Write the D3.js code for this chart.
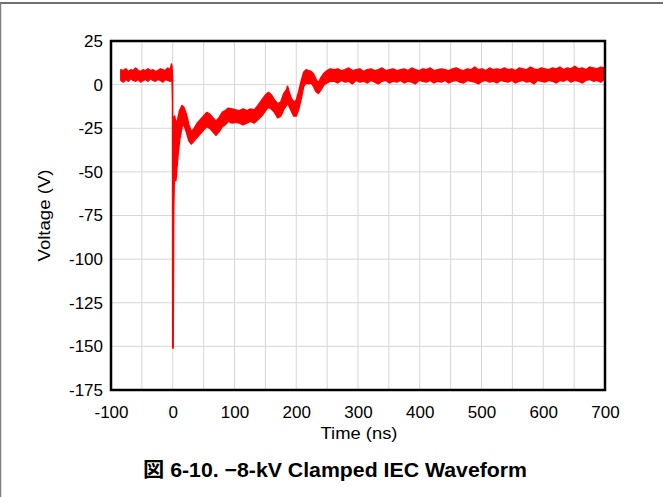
<!DOCTYPE html>
<html><head><meta charset="utf-8">
<script src="https://cdn.jsdelivr.net/npm/d3@7"></script>
<style>
body{margin:0;background:#fff;}
svg{display:block;font-family:"Liberation Sans",Arial,"Noto Sans CJK JP",sans-serif;}
</style></head><body>
<svg id="c" width="663" height="497"></svg>
<script>
// ---- data ----
const xTicks = [-100, 0, 100, 200, 300, 400, 500, 600, 700];
const yTicks = [25, 0, -25, -50, -75, -100, -125, -150, -175];
const xGrid = [-50, 0, 50, 100, 150, 200, 250, 300, 350, 400, 450, 500, 550, 600, 650];
const yGrid = [0, -25, -50, -75, -100, -125, -150];

const timeNs = [
  -84,-80,-76,-72,-68,-64,-60,-56,-52,-48,-44,-40,-36,-32,-28,-24,-20,-16,-12,-8,-4,
  -2,-1,-0.3,0,0.6,1.5,3,5,8,11,15,18,22,26,30,35,40,45,50,55,60,65,70,75,80,85,90,96,102,108,
  114,120,126,132,138,144,150,155,160,165,170,175,180,184,186,188,192,196,200,204,
  208,212,216,220,224,228,232,236,240,245,250,255,
  261,267,273,279,285,291,297,303,309,315,321,327,333,339,345,351,357,363,369,375,
  381,387,393,399,405,411,417,423,429,435,441,447,453,459,465,471,477,483,489,495,
  501,507,513,519,525,531,537,543,549,555,561,567,573,579,585,591,597,603,609,615,
  621,627,633,639,645,651,657,663,669,675,681,687,693,699
];
const upperV = [
  8.5,8.0,9.0,7.5,8.5,8.0,9.5,8.0,7.5,8.5,8.0,9.0,8.0,8.5,7.5,8.0,9.0,8.5,8.0,9.5,8.5,
  11.8,9,3,-140,-110,-19,-18,-22,-20,-15,-12,-13,-17,-23,-27,-25,-22,-20,-18,-16,-17,-19,-21,-19,-16,-15,-13.5,-14,-14.5,-15,
  -14,-15,-14,-14.5,-12,-9,-6,-4.5,-6,-9,-11,-10,-5,-3,-1,-4,-8,-10,-9,-4,
  2,7,8.5,8,7.5,6,3,1,4,6.5,8,9,
  8.5,9.0,8.0,8.5,9.5,8.0,8.5,9.0,7.5,8.5,9.0,8.0,8.5,9.5,8.0,8.5,9.0,8.0,8.5,9.0,
  8.0,9.5,8.5,8.0,9.0,8.5,9.5,8.0,8.5,9.0,8.5,8.0,9.0,9.5,8.5,8.0,9.0,8.5,10.0,8.5,
  9.0,8.0,9.5,8.5,9.0,8.5,9.5,8.5,9.0,8.0,9.5,9.0,8.5,10.0,9.0,8.5,9.5,9.0,8.5,9.5,
  9.0,10.0,8.5,9.5,9.0,10.5,9.0,9.5,8.5,10.0,9.5,9.0,10.0,9.5
];
const lowerV = [
  2.5,1.5,3.0,2.0,3.5,2.5,2.0,3.0,1.5,2.5,3.0,2.0,3.5,2.5,2.0,3.0,2.5,1.5,3.0,2.5,2.0,
  2.5,2,-10,-151,-151,-72,-45,-55,-42,-32,-24,-23,-27,-32,-34,-32,-30,-28,-26,-24,-25,-27,-29,-27,-24,-23,-21,-22,-21.5,-22,
  -23,-22,-21,-22,-20,-18,-15,-13,-14,-16,-19,-18,-14,-12,-10,-12,-15,-18,-18,-14,
  -8,-1,1,0.5,1,-1,-4,-5,-3,0,1,2,
  2.0,1.0,2.5,1.5,2.0,0.5,2.5,1.5,2.0,1.0,2.5,1.5,0.5,2.0,2.5,1.0,2.0,1.5,2.5,1.0,
  2.0,1.5,0.5,2.5,2.0,1.5,2.5,1.0,2.0,1.5,2.5,1.0,2.0,2.5,1.5,1.0,2.5,2.0,1.5,0.5,
  2.0,2.5,1.5,2.0,1.0,2.5,2.0,1.5,2.5,1.0,2.0,2.5,1.5,2.0,0.5,2.5,2.0,1.5,2.5,2.0,
  1.0,2.5,2.0,3.0,1.5,2.5,2.0,1.0,2.5,3.0,2.0,2.5,1.5,3.0
];
const xLabel = "Time (ns)";
const yLabel = "Voltage (V)";
const title = "図 6-10. \u22128-kV Clamped IEC Waveform";

// ---- layout ----
const L = 111, R = 605, T = 41, B = 390;
const svg = d3.select("#c");
const x = d3.scaleLinear().domain([-100, 700]).range([L, R]);
const y = d3.scaleLinear().domain([-175, 25]).range([B, T]);

// outer page border
svg.append("line").attr("x1",0).attr("x2",663).attr("y1",3).attr("y2",3)
  .attr("stroke","#707070").attr("stroke-width",2);
svg.append("line").attr("x1",0.5).attr("x2",0.5).attr("y1",3).attr("y2",497)
  .attr("stroke","#808080").attr("stroke-width",1.5);

// grid
svg.append("g").selectAll("line").data(xGrid).join("line")
  .attr("x1",d=>x(d)).attr("x2",d=>x(d)).attr("y1",T).attr("y2",B)
  .attr("stroke","#d6d6d6").attr("stroke-width",1);
svg.append("g").selectAll("line").data(yGrid).join("line")
  .attr("x1",L).attr("x2",R).attr("y1",d=>y(d)).attr("y2",d=>y(d))
  .attr("stroke","#d6d6d6").attr("stroke-width",1);

// waveform band
const pts = timeNs.map((t,i)=>({t, hi:upperV[i], lo:lowerV[i]}));
const area = d3.area().x(d=>x(d.t)).y0(d=>y(d.lo)).y1(d=>y(d.hi));
svg.append("path").datum(pts).attr("d",area)
  .attr("fill","#ff0000").attr("stroke","#ff0000").attr("stroke-width",1.6)
  .attr("stroke-linejoin","round");

// frame
svg.append("rect").attr("x",L).attr("y",T).attr("width",R-L).attr("height",B-T)
  .attr("fill","none").attr("stroke","#000").attr("stroke-width",2.5);

// axes
const fmt = d => String(d);
const xAxis = svg.append("g").attr("transform",`translate(0,${B})`)
  .call(d3.axisBottom(x).tickValues(xTicks).tickSize(0).tickPadding(16).tickFormat(fmt));
const yAxis = svg.append("g").attr("transform",`translate(${L},0)`)
  .call(d3.axisLeft(y).tickValues(yTicks).tickSize(0).tickPadding(8).tickFormat(fmt));
[xAxis,yAxis].forEach(g=>{
  g.select(".domain").remove();
  g.selectAll("text").attr("font-size",17).attr("fill","#000")
    .attr("font-family","'Liberation Sans',Arial,sans-serif");
});

svg.append("text").attr("x",(L+R)/2+1).attr("y",439).attr("text-anchor","middle")
  .attr("font-size",17).attr("textLength",77).attr("lengthAdjust","spacingAndGlyphs").text(xLabel);
svg.append("text").attr("transform",`translate(50,${(T+B)/2}) rotate(-90)`)
  .attr("text-anchor","middle").attr("font-size",17)
  .attr("textLength",92).attr("lengthAdjust","spacingAndGlyphs").text(yLabel);
svg.append("text").attr("x",335).attr("y",477).attr("text-anchor","middle")
  .attr("font-size",20).attr("font-weight","bold")
  .attr("textLength",384).attr("lengthAdjust","spacingAndGlyphs").text(title);
</script></body></html>
